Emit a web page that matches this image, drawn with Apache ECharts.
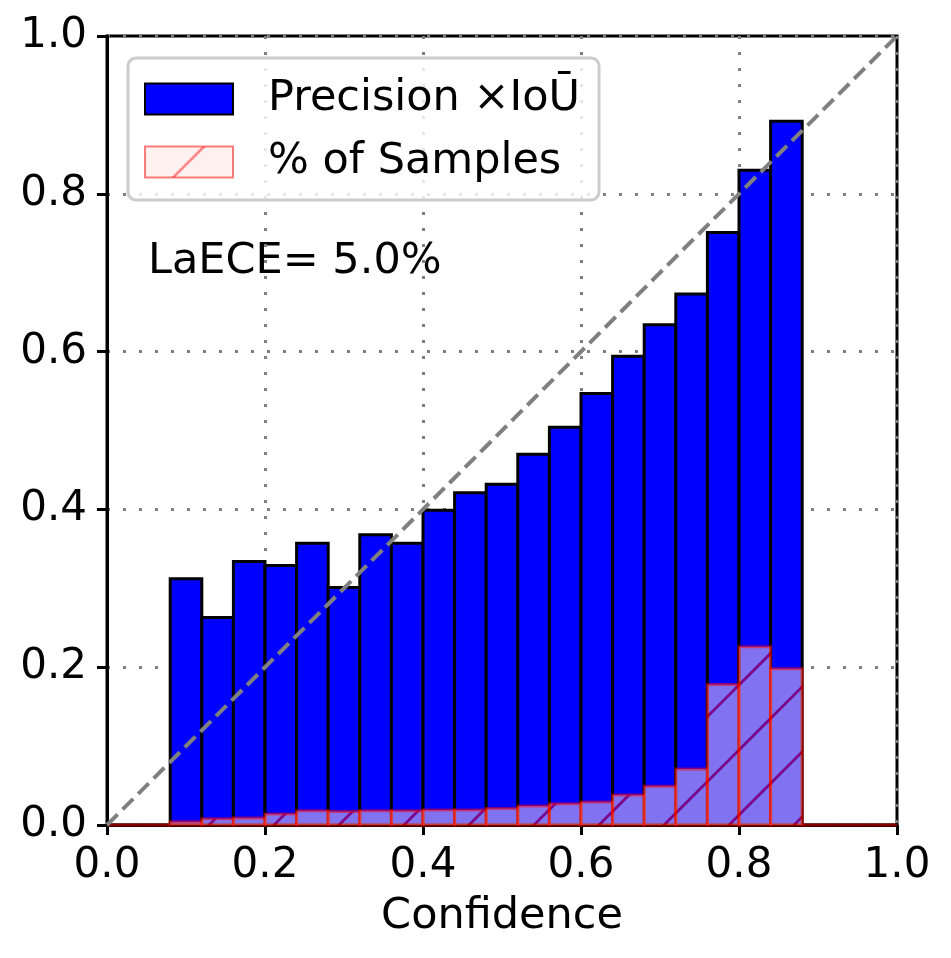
<!DOCTYPE html>
<html>
<head>
<meta charset="utf-8">
<script src="https://cdn.jsdelivr.net/npm/echarts@6/dist/echarts.min.js"></script>
<style>
  html, body { margin: 0; padding: 0; background: #fff; }
  #chart { width: 951px; height: 958px; }
</style>
</head>
<body>
<div id="chart"></div>
<script>
// reliability diagram, 25 confidence bins of width 0.04
const binWidth = 0.04
const binStarts = [
  0.00, 0.04, 0.08, 0.12, 0.16, 0.20, 0.24, 0.28, 0.32, 0.36, 0.40, 0.44, 0.48,
  0.52, 0.56, 0.60, 0.64, 0.68, 0.72, 0.76, 0.80, 0.84, 0.88, 0.92, 0.96
]
const precisionIou = [
  0, 0, 0.312, 0.263, 0.334, 0.329, 0.357, 0.301, 0.368, 0.357, 0.399, 0.421, 0.432,
  0.470, 0.504, 0.547, 0.594, 0.634, 0.673, 0.751, 0.830, 0.892, 0, 0, 0
]
const sampleShare = [
  0, 0, 0.004, 0.008, 0.009, 0.014, 0.018, 0.017, 0.018, 0.018, 0.019, 0.019, 0.021,
  0.024, 0.027, 0.029, 0.038, 0.049, 0.071, 0.178, 0.226, 0.198, 0, 0, 0
]
const diagonal = [[0, 0], [1, 1]]
const tickValues = [0, 0.2, 0.4, 0.6, 0.8, 1.0]
const laeceText = 'LaECE= 5.0%'

const FONT = 'DejaVu Sans'

// hatch '/' pattern: light pink fill, red lines at half alpha
function makeHatch() {
  const size = 65
  const c = document.createElement('canvas')
  c.width = size
  c.height = size
  const ctx = c.getContext('2d')
  ctx.fillStyle = 'rgba(255,228,225,0.5)'
  ctx.fillRect(0, 0, size, size)
  const drawLines = () => {
    ctx.beginPath()
    ;[-size, 0, size].forEach(off => {
      const k = 59 + off
      ctx.moveTo(-10, k + 10)
      ctx.lineTo(k + 10, -10)
    })
    ctx.stroke()
  }
  ctx.lineWidth = 2.6
  ctx.globalCompositeOperation = 'destination-out'
  ctx.strokeStyle = '#000'
  drawLines()
  ctx.globalCompositeOperation = 'source-over'
  ctx.strokeStyle = 'rgba(255,0,0,0.5)'
  drawLines()
  return c
}

const hatch = { image: makeHatch(), repeat: 'repeat' }

function barRenderer(values, style) {
  return function (params, api) {
    const i = params.dataIndex
    const p0 = api.coord([binStarts[i], 0])
    const p1 = api.coord([binStarts[i] + binWidth, values[i]])
    return {
      type: 'rect',
      shape: { x: p0[0], y: p1[1], width: p1[0] - p0[0], height: p0[1] - p1[1] },
      style: style
    }
  }
}

const chart = echarts.init(document.getElementById('chart'))

const axisCommon = {
  type: 'value',
  min: 0,
  max: 1,
  interval: 0.2,
  axisLine: { show: true, lineStyle: { color: '#000', width: 3 } },
  axisTick: { show: true, inside: false, length: 10, lineStyle: { color: '#000', width: 3 } },
  axisLabel: {
    color: '#000',
    fontFamily: FONT,
    fontSize: 42,
    margin: 20,
    formatter: v => tickValues.includes(+v.toFixed(1)) ? v.toFixed(1) : ''
  },
  splitLine: {
    show: true,
    lineStyle: { color: '#808080', width: 3, type: [3, 13] }
  }
}

chart.setOption({
  animation: false,
  backgroundColor: '#fff',
  grid: {
    left: 107, right: 54, top: 36, bottom: 133,
    show: true, borderColor: '#000', borderWidth: 3
  },
  xAxis: Object.assign({}, axisCommon, {
    name: 'Confidence',
    nameLocation: 'middle',
    nameGap: 70,
    nameTextStyle: { color: '#000', fontFamily: FONT, fontSize: 43 }
  }),
  yAxis: Object.assign({}, axisCommon),
  legend: {
    orient: 'vertical',
    left: 128,
    top: 58,
    padding: [17, 19, 14, 16],
    itemGap: 15,
    itemWidth: 88,
    itemHeight: 31,
    icon: 'rect',
    backgroundColor: 'rgba(255,255,255,0.8)',
    borderColor: '#cccccc',
    borderWidth: 3,
    borderRadius: 8,
    textStyle: {
      color: '#000', fontFamily: FONT, fontSize: 43, lineHeight: 48,
      padding: [0, 0, 0, 30]
    },
    data: ['Precision \u00d7IoU\u0304', '% of Samples']
  },
  graphic: [{
    type: 'text',
    left: 148,
    top: 240,
    style: { text: laeceText, fill: '#000', font: '43px "' + FONT + '"' }
  }],
  series: [
    {
      name: 'Precision \u00d7IoU\u0304',
      type: 'custom',
      coordinateSystem: 'cartesian2d',
      itemStyle: { color: '#0000ff', borderColor: '#000', borderWidth: 3 },
      renderItem: barRenderer(precisionIou, { fill: '#0000ff', stroke: '#000', lineWidth: 3 }),
      data: binStarts.map((x, i) => [x, precisionIou[i]]),
      z: 2
    },
    {
      name: '% of Samples',
      type: 'custom',
      coordinateSystem: 'cartesian2d',
      itemStyle: { color: hatch, borderColor: 'rgba(255,0,0,0.5)', borderWidth: 3 },
      renderItem: barRenderer(sampleShare, { fill: hatch, stroke: 'rgba(255,0,0,0.5)', lineWidth: 3 }),
      data: binStarts.map((x, i) => [x, sampleShare[i]]),
      z: 3
    },
    {
      type: 'line',
      data: diagonal,
      symbol: 'none',
      silent: true,
      lineStyle: { color: '#808080', width: 4, type: [15, 7] },
      z: 4
    }
  ]
})
</script>
</body>
</html>
